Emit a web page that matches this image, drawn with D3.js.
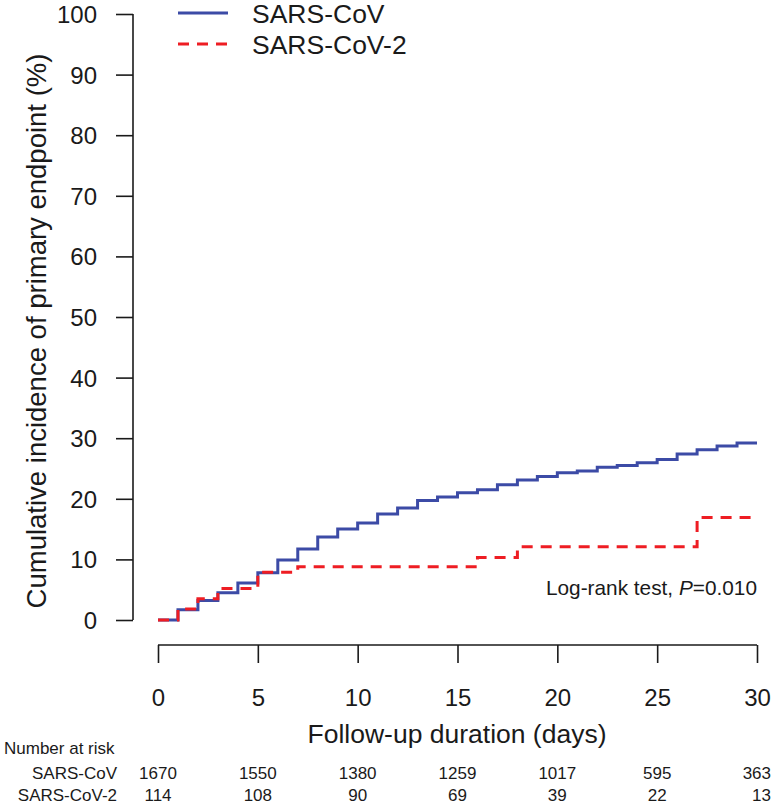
<!DOCTYPE html>
<html><head><meta charset="utf-8">
<script src="https://cdn.jsdelivr.net/npm/d3@7"></script>
<style>body{margin:0;background:#fff;} text{font-family:"Liberation Sans",Arial,sans-serif;fill:#1a1a1a;}</style>
</head><body><svg id="c" width="776" height="805"></svg>
<script>
const seriesNames = ["SARS-CoV", "SARS-CoV-2"];
const covDays = [0,1,2,3,4,5,6,7,8,9,10,11,12,13,14,15,16,17,18,19,20,21,22,23,24,25,26,27,28,29,30];
const covValues = [0,1.7,3.2,4.5,6.1,7.8,9.9,11.7,13.7,15.0,16.0,17.5,18.5,19.7,20.3,21.0,21.5,22.3,23.1,23.7,24.3,24.6,25.2,25.5,25.95,26.5,27.4,28.1,28.7,29.2,29.2];
const cov2Days = [0,1,2,3,5,7,16,18,27,30];
const cov2Values = [0,1.8,3.5,5.2,7.9,8.8,10.3,12.1,16.9,16.9];
const xTicks = [0,5,10,15,20,25,30];
const yTicks = [0,10,20,30,40,50,60,70,80,90,100];
const riskCov = [1670,1550,1380,1259,1017,595,363];
const riskCov2 = [114,108,90,69,39,22,13];
const colors = ["#3c4ba6", "#ee1d23"];

const svg = d3.select("#c");
const x = d3.scaleLinear().domain([0,30]).range([158,757]);
const y = d3.scaleLinear().domain([0,100]).range([620,14]);

// y axis
const yAxis = svg.append("g").attr("transform","translate(133,0)")
  .call(d3.axisLeft(y).tickValues(yTicks).tickSize(17).tickPadding(19));
yAxis.selectAll("text").style("font-size","24px").attr("dy","0.35em");
yAxis.select(".domain").attr("d", `M0,${y(100)}V${y(0)}`);
yAxis.selectAll("path,line").attr("stroke","#1a1a1a").attr("stroke-width",1.6);

// x axis
const xAxis = svg.append("g").attr("transform","translate(0,645)")
  .call(d3.axisBottom(x).tickValues(xTicks).tickSize(18).tickPadding(26));
xAxis.selectAll("text").style("font-size","24px");
xAxis.select(".domain").attr("d", `M${x(0)},0H${x(30)}`);
xAxis.selectAll("path,line").attr("stroke","#1a1a1a").attr("stroke-width",1.6);

// labels
svg.append("text").attr("transform","translate(46,331) rotate(-90)").attr("text-anchor","middle")
  .style("font-size","27.5px").text("Cumulative incidence of primary endpoint (%)");
svg.append("text").attr("x",457).attr("y",743).attr("text-anchor","middle")
  .style("font-size","26.5px").text("Follow-up duration (days)");

// curves
const line = d3.line().x(d=>x(d[0])).y(d=>y(d[1])).curve(d3.curveStepAfter);
svg.append("path").datum(covDays.map((d,i)=>[d,covValues[i]]))
  .attr("d",line).attr("fill","none").attr("stroke",colors[0]).attr("stroke-width",3);
svg.append("path").datum(cov2Days.map((d,i)=>[d,cov2Values[i]]))
  .attr("d",line).attr("fill","none").attr("stroke",colors[1]).attr("stroke-width",3)
  .attr("stroke-dasharray","11,8");

// legend
const leg = svg.append("g");
seriesNames.forEach((n,i)=>{
  const ly = 13 + i*31;
  leg.append("line").attr("x1",178).attr("x2",228).attr("y1",ly).attr("y2",ly)
    .attr("stroke",colors[i]).attr("stroke-width",3)
    .attr("stroke-dasharray", i===1 ? "11,8" : null);
  leg.append("text").attr("x",252).attr("y",ly).attr("dy","0.36em").style("font-size","26.5px").text(n);
});

// log-rank
const lr = svg.append("text").attr("x",757).attr("y",595).attr("text-anchor","end").style("font-size","20.8px");
lr.append("tspan").text("Log-rank test, ");
lr.append("tspan").style("font-style","italic").text("P");
lr.append("tspan").text("=0.010");

// number at risk
svg.append("text").attr("x",4).attr("y",754).style("font-size","17px").text("Number at risk");
[[riskCov,773],[riskCov2,795]].forEach(([arr,ry],i)=>{
  svg.append("text").attr("x",117).attr("y",ry).attr("dy","0.35em").attr("text-anchor","end")
    .style("font-size","17px").text(seriesNames[i]);
  svg.selectAll(null).data(arr).enter().append("text")
    .attr("x",(d,j)=>x(xTicks[j])).attr("y",ry).attr("dy","0.35em")
    .attr("text-anchor",(d,j)=> j===arr.length-1 ? "end" : "middle")
    .attr("dx",(d,j)=> j===arr.length-1 ? 14 : 0)
    .style("font-size","17px").text(d=>d);
});
</script></body></html>
